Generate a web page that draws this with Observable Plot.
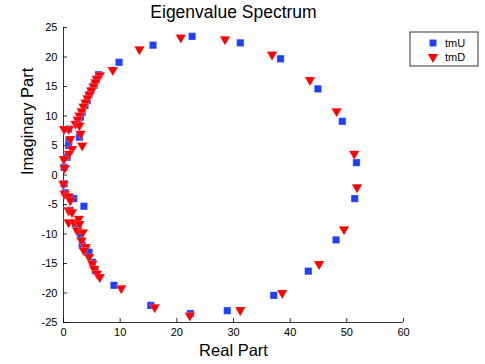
<!DOCTYPE html>
<html>
<head>
<meta charset="utf-8">
<script src="https://cdn.jsdelivr.net/npm/d3@7"></script>
<script src="https://cdn.jsdelivr.net/npm/@observablehq/plot@0.6"></script>
<style>
  html, body { margin: 0; padding: 0; background: #fff; }
  #chart { position: relative; width: 485px; height: 364px; }
</style>
</head>
<body>
<div id="chart"></div>
<script>
const titleText = "Eigenvalue Spectrum";
const xLabel = "Real Part";
const yLabel = "Imaginary Part";
const xTicks = [0, 10, 20, 30, 40, 50, 60];
const yTicks = [-25, -20, -15, -10, -5, 0, 5, 10, 15, 20, 25];
const seriesNames = ["tmU", "tmD"];

const tmU_re = [22.7, 31.2, 38.3, 44.9, 49.2, 51.7, 51.4, 48.1, 43.2, 37.1, 28.9, 22.4,
  15.8, 9.8, 6.2, 5.8, 5.4, 4.8, 4.5, 4.2, 3.8, 3.3, 3.0, 2.6, 0.94, 2.8, 0.94, 0.9, 0.65, 0.1, 0.1,
  0.3, 1.8, 3.6, 1.2, 2.1, 2.6, 3.0, 3.3, 4.0, 4.5, 5.1, 5.6, 8.9, 15.4];
const tmU_im = [23.5, 22.4, 19.7, 14.6, 9.1, 2.1, -4.0, -11.0, -16.3, -20.4, -23.0, -23.5,
  22.0, 19.1, 17.0, 16.2, 15.2, 14.3, 13.6, 12.6, 11.8, 10.6, 9.8, 8.9, 7.8, 6.4, 5.8, 5.0, 3.0, 1.3, -1.5,
  -3.0, -4.0, -5.3, -6.0, -8.3, -9.2, -10.3, -11.9, -12.5, -13.1, -14.8, -16.2, -18.7, -22.1];

const tmD_re = [20.7, 28.5, 36.8, 43.5, 48.2, 51.3, 51.8, 49.5, 45.1, 38.6, 31.2, 22.3,
  13.4, 8.7, 6.4, 5.9, 5.65, 5.3, 4.94, 4.6, 4.24, 3.9, 3.53, 3.2, 2.82, 2.5, 2.12, 0.94, 0.1, 2.8, 3.0, 3.3, 1.2, 1.5, 0.94, 0.06, 0.2, 0.0,
  0.2, 0.9, 1.2, 0.9, 1.5, 0.9, 1.8, 2.7, 2.8, 2.4, 3.4, 3.2, 3.9, 3.6, 4.5, 5.1, 5.4, 5.9, 6.4, 10.2, 16.1];
const tmD_im = [23.3, 23.0, 20.4, 16.1, 10.8, 3.6, -2.1, -9.2, -15.1, -20.0, -22.9, -23.8,
  21.3, 17.8, 16.9, 16.3, 15.7, 15.0, 14.3, 13.6, 13.0, 12.3, 11.6, 10.8, 10.1, 9.4, 8.7, 7.8, 7.8, 8.4, 7.0, 5.0, 6.1, 4.4, 3.6, 2.7, 1.2, -1.5,
  -3.2, -3.6, -4.3, -6.0, -6.3, -8.0, -8.0, -7.4, -8.3, -9.4, -9.7, -11.1, -12.2, -12.8, -13.9, -15.0, -15.9, -16.7, -17.3, -19.2, -22.4];

const uData = tmU_re.map((re, i) => ({re, im: tmU_im[i]}));
const dData = tmD_re.map((re, i) => ({re, im: tmD_im[i]}));

const blue = "#1f3fff";
const red = "#ff0000";
const font = "'Liberation Sans', Arial, Helvetica, sans-serif";

const chart = Plot.plot({
  width: 485,
  height: 364,
  marginLeft: 63,
  marginRight: 82,
  marginTop: 27,
  marginBottom: 42,
  style: {fontFamily: font, background: "#fff", overflow: "visible"},
  x: {domain: [0, 60]},
  y: {domain: [-25, 25]},
  marks: [
    Plot.ruleX([0], {stroke: "#000", strokeWidth: 0.8}),
    Plot.ruleY([-25], {stroke: "#000", strokeWidth: 0.8}),
    Plot.axisX({ticks: xTicks, tickSize: 0, tickPadding: 6, fontSize: 11, fill: "#000", label: null, tickFormat: d => d}),
    Plot.axisX({ticks: xTicks, tickSize: -4, text: null, stroke: "#000", strokeWidth: 0.8, label: null}),
    Plot.axisY({ticks: yTicks, tickSize: 0, tickPadding: 6, fontSize: 11, fill: "#000", label: null, tickFormat: d => d}),
    Plot.axisY({ticks: yTicks, tickSize: -4, text: null, stroke: "#000", strokeWidth: 0.8, label: null}),
    Plot.text([titleText], {frameAnchor: "top", lineAnchor: "bottom", dy: -9.5, fontSize: 17.5, fill: "#000"}),
    Plot.text([xLabel], {frameAnchor: "bottom", lineAnchor: "bottom", dy: 33, fontSize: 16.5, fill: "#000"}),
    Plot.text([yLabel], {frameAnchor: "left", dx: -36, rotate: -90, fontSize: 16.5, fill: "#000"}),
    Plot.dot(uData, {x: "re", y: "im", symbol: "square", r: 4.1, fill: blue, stroke: "#fff", strokeOpacity: 0.4, strokeWidth: 0.5}),
    Plot.dot(dData, {x: "re", y: "im", symbol: "triangle", rotate: 180, r: 3.9, fill: red, stroke: "#fff", strokeOpacity: 0.4, strokeWidth: 0.5})
  ]
});

// legend box in the right margin
const svg = d3.select(chart);
const lg = svg.append("g").attr("transform", "translate(410,32)");
lg.append("rect").attr("width", 68).attr("height", 34).attr("fill", "#fff").attr("stroke", "#000").attr("stroke-width", 0.8);
const sym = [d3.symbol(d3.symbolSquare, Math.PI * 3.9 * 3.9), d3.symbol(d3.symbolTriangle, Math.PI * 3.8 * 3.8)];
const cols = [blue, red];
seriesNames.forEach((name, i) => {
  const gy = 11 + i * 14;
  lg.append("path").attr("d", sym[i]()).attr("fill", cols[i])
    .attr("transform", `translate(23,${gy})` + (i === 1 ? " rotate(180)" : ""));
  lg.append("text").attr("x", 45).attr("y", gy).attr("dy", "0.35em")
    .attr("font-size", 11).attr("font-family", font).attr("fill", "#000").text(name);
});

document.getElementById("chart").appendChild(chart);
</script>
</body>
</html>
